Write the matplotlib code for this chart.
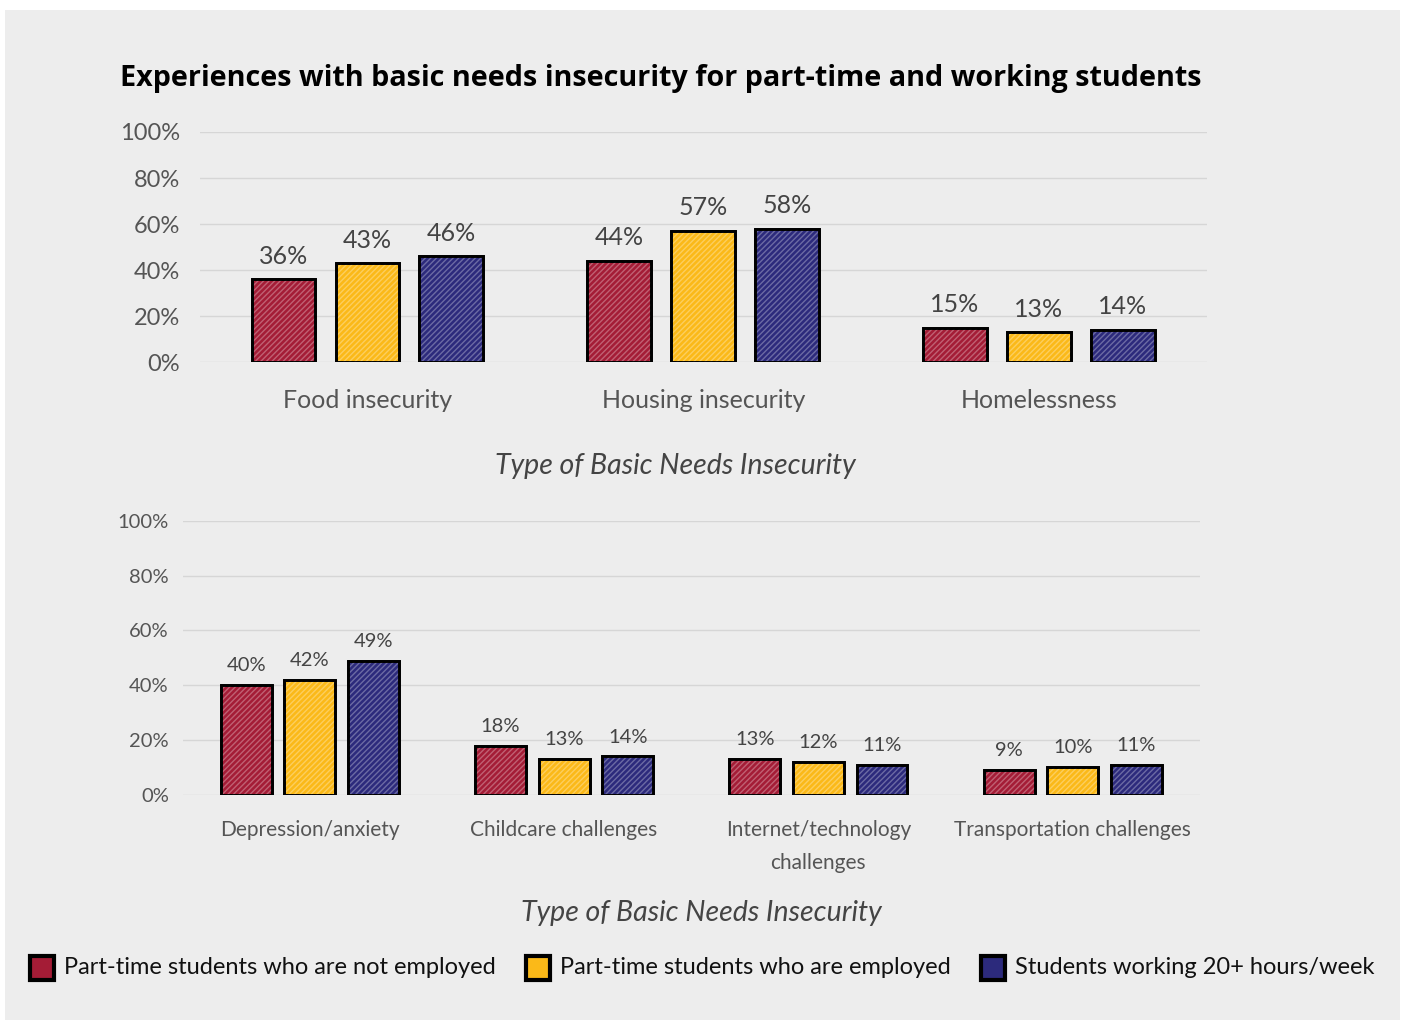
import numpy as np
import matplotlib.pyplot as plt
from matplotlib.patches import Rectangle

top_categories = ['Food insecurity', 'Housing insecurity', 'Homelessness']
top_not_employed = [36, 44, 15]
top_employed = [43, 57, 13]
top_working20 = [46, 58, 14]

bottom_categories = ['Depression/anxiety', 'Childcare challenges',
                     'Internet/technology\nchallenges', 'Transportation challenges']
bottom_not_employed = [40, 18, 13, 9]
bottom_employed = [42, 13, 12, 10]
bottom_working20 = [49, 14, 11, 11]

series_names = ['Part-time students who are not employed',
                'Part-time students who are employed',
                'Students working 20+ hours/week']
colors = ['#a41c36', '#fbb918', '#2c2a7c']
yticks = [0, 20, 40, 60, 80, 100]

MAIN = ['Lato', 'DejaVu Sans']
TITLE = ['Open Sans', 'Lato', 'DejaVu Sans']

fig = plt.figure(figsize=(14.05, 10.23), dpi=100, facecolor='white')
fig.patches.append(Rectangle((5 / 1405, 3 / 1023), 1395 / 1405, 1010 / 1023,
                             transform=fig.transFigure, facecolor='#ededed',
                             edgecolor='none', zorder=-10))


def draw_bars(ax, series, width, step, value_size, value_gap):
    x = np.arange(len(series[0]))
    for i, vals in enumerate(series):
        pos = x + (i - 1) * step
        ax.bar(pos, vals, width, color=colors[i], edgecolor='black', linewidth=2, zorder=3)
        ax.bar(pos, vals, width, color='none', edgecolor='white', hatch='//////',
               linewidth=0, alpha=0.3, zorder=4)
        ax.bar(pos, vals, width, color='none', edgecolor='black', linewidth=2, zorder=5)
        for p, v in zip(pos, vals):
            ax.text(p, v + value_gap, f'{v}%', ha='center', va='bottom', fontsize=value_size,
                    color='#444444', family=MAIN)
    ax.set_xlim(-0.5, len(series[0]) - 0.5)
    ax.set_ylim(0, 100)
    ax.set_yticks(yticks)
    ax.set_facecolor('none')
    ax.grid(axis='y', color='#d6d6d6', linewidth=1, zorder=0)
    for s in ax.spines.values():
        s.set_visible(False)
    ax.tick_params(length=0)
    return x


# top chart
ax1 = fig.add_axes([0.142, 0.646, 0.717, 0.225])
x1 = draw_bars(ax1, [top_not_employed, top_employed, top_working20], 0.19, 0.25, 18, 5)
ax1.set_yticklabels([f'{t}%' for t in yticks], fontsize=17, color='#555555', family=MAIN)
ax1.tick_params(axis='y', pad=14)
ax1.set_xticks(x1)
ax1.set_xticklabels(top_categories, fontsize=18, color='#555555', family=MAIN)
ax1.tick_params(axis='x', pad=19)
ax1.set_xlabel('Type of Basic Needs Insecurity', fontsize=20.5, style='italic',
               color='#444444', family=MAIN)
ax1.xaxis.set_label_coords(0.472, -0.395)

# bottom chart
ax2 = fig.add_axes([0.130, 0.223, 0.724, 0.268])
x2 = draw_bars(ax2, [bottom_not_employed, bottom_employed, bottom_working20], 0.2, 0.25, 14.5, 4)
ax2.set_yticklabels([f'{t}%' for t in yticks], fontsize=14.5, color='#555555', family=MAIN)
ax2.tick_params(axis='y', pad=10)
ax2.set_xticks(x2)
ax2.set_xticklabels(bottom_categories, fontsize=15, color='#555555', family=MAIN,
                    linespacing=1.8)
ax2.tick_params(axis='x', pad=18)
ax2.set_xlabel('Type of Basic Needs Insecurity', fontsize=20.5, style='italic',
               color='#444444', family=MAIN)
ax2.xaxis.set_label_coords(0.51, -0.385)

fig.text(0.4705, 0.923, 'Experiences with basic needs insecurity for part-time and working students',
         ha='center', va='center', fontsize=20.7, fontweight='bold', color='black', family=TITLE)

# legend
leg_x = [30, 526, 981]
for lx, name, c in zip(leg_x, series_names, colors):
    fig.patches.append(Rectangle((lx / 1405, 1 - 980 / 1023), 24 / 1405, 24 / 1023,
                                 transform=fig.transFigure, facecolor=c,
                                 edgecolor='black', linewidth=3))
    fig.text((lx + 34) / 1405, 1 - 968 / 1023, name, ha='left', va='center',
             fontsize=17, color='#111111', family=MAIN)

fig.savefig('out.png', dpi=100, facecolor='white')
